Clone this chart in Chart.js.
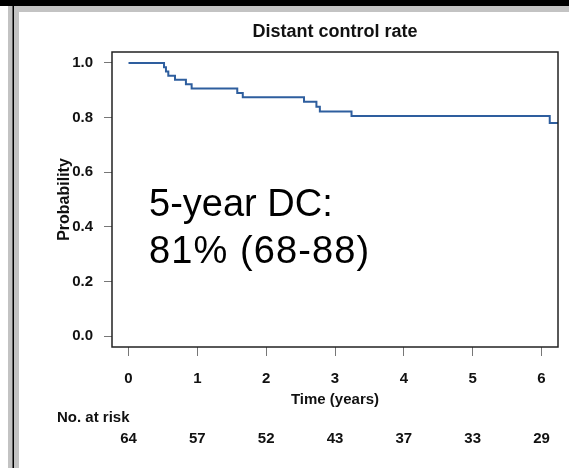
<!DOCTYPE html>
<html>
<head>
<meta charset="utf-8">
<script src="https://cdn.jsdelivr.net/npm/chart.js@4.4.0/dist/chart.umd.min.js"></script>
<style>
  html, body { margin: 0; padding: 0; background: #fff; }
  #wrap { width: 569px; height: 468px; position: relative; }
</style>
</head>
<body>
<div id="wrap"><canvas id="km"></canvas></div>
<script>
// ═══ DATA ═══
const times    = [0, 0.516, 0.544, 0.578, 0.675, 0.834, 0.917, 1.58, 1.66, 2.55, 2.73, 2.78, 3.24, 6.12, 6.24];
const survival = [1.0, 0.984, 0.969, 0.953, 0.938, 0.922, 0.906, 0.890, 0.874, 0.858, 0.840, 0.822, 0.806, 0.780, 0.780];
const xTicks = [0, 1, 2, 3, 4, 5, 6];
const yTicks = [0, 0.2, 0.4, 0.6, 0.8, 1.0];
const atRisk = [64, 57, 52, 43, 37, 33, 29];
const titleText = 'Distant control rate';
const noteLines = ['5-year DC:', '81% (68-88)'];

const FONT = "'Liberation Sans', Arial, sans-serif";
const curveColor = '#2e5e9e';

// ═══ DECORATION + TEXT PLUGIN ═══
const decor = {
  id: 'decor',
  beforeDraw(chart) {
    const c = chart.ctx;
    c.save();
    c.fillStyle = '#fff';
    c.fillRect(0, 0, chart.width, chart.height);
    // slide frame
    c.fillStyle = '#c3c3c3';
    c.fillRect(8, 6, chart.width - 8, 6);
    c.fillRect(8, 6, 11, chart.height - 6);
    c.fillStyle = '#000';
    c.fillRect(0, 0, chart.width, 6);
    c.fillRect(12.5, 6, 1.5, chart.height - 6);
    c.restore();
  },
  afterDraw(chart) {
    const c = chart.ctx;
    const a = chart.chartArea;
    const xs = chart.scales.x;
    c.save();
    // box
    c.strokeStyle = '#222';
    c.lineWidth = 1.5;
    c.strokeRect(a.left, a.top, a.right - a.left, a.bottom - a.top);
    // title
    c.fillStyle = '#111';
    c.font = 'bold 18px ' + FONT;
    c.textAlign = 'center';
    c.textBaseline = 'middle';
    c.fillText(titleText, (a.left + a.right) / 2, 32);
    // number at risk
    c.font = 'bold 15px ' + FONT;
    c.textAlign = 'left';
    c.fillText('No. at risk', 57, 418);
    c.textAlign = 'center';
    atRisk.forEach((n, i) => {
      c.fillText(String(n), xs.getPixelForValue(xTicks[i]), 439);
    });
    // annotation
    c.fillStyle = '#000';
    c.font = '38px ' + FONT;
    c.textAlign = 'left';
    c.textBaseline = 'alphabetic';
    c.fillText(noteLines[0], 149, 216);
    c.letterSpacing = '1.1px';
    c.fillText(noteLines[1], 149, 263);
    c.restore();
  }
};

// ═══ CHART ═══
new Chart(document.getElementById('km'), {
  type: 'line',
  data: {
    datasets: [{
      data: times.map((t, i) => ({ x: t, y: survival[i] })),
      stepped: true,
      borderColor: curveColor,
      borderWidth: 2,
      pointRadius: 0,
      fill: false
    }]
  },
  options: {
    responsive: true,
    maintainAspectRatio: false,
    animation: false,
    layout: { padding: { left: 52, right: 11, top: 52, bottom: 55 } },
    plugins: { legend: { display: false }, title: { display: false }, tooltip: { enabled: false } },
    scales: {
      x: {
        type: 'linear',
        min: -0.24, max: 6.24,
        afterBuildTicks: s => { s.ticks = xTicks.map(v => ({ value: v })); },
        afterFit: s => { s.height = 66; },
        border: { display: false },
        grid: { drawOnChartArea: false, drawTicks: true, tickLength: 9, color: '#777', tickWidth: 1 },
        ticks: { color: '#111', font: { family: FONT, size: 15, weight: 'bold' }, padding: 14, maxRotation: 0 },
        title: { display: true, text: 'Time (years)', color: '#111', font: { family: FONT, size: 15, weight: 'bold' }, padding: 4 }
      },
      y: {
        min: -0.04, max: 1.04,
        afterBuildTicks: s => { s.ticks = yTicks.map(v => ({ value: v })); },
        afterFit: s => { s.width = 60; },
        border: { display: false },
        grid: { drawOnChartArea: false, drawTicks: true, tickLength: 8, color: '#777', tickWidth: 1 },
        ticks: { color: '#111', font: { family: FONT, size: 15, weight: 'bold' }, padding: 11, callback: v => v.toFixed(1) },
        title: { display: true, text: 'Probability', color: '#111', font: { family: FONT, size: 16, weight: 'bold' }, padding: 3 }
      }
    }
  },
  plugins: [decor]
});
</script>
</body>
</html>
